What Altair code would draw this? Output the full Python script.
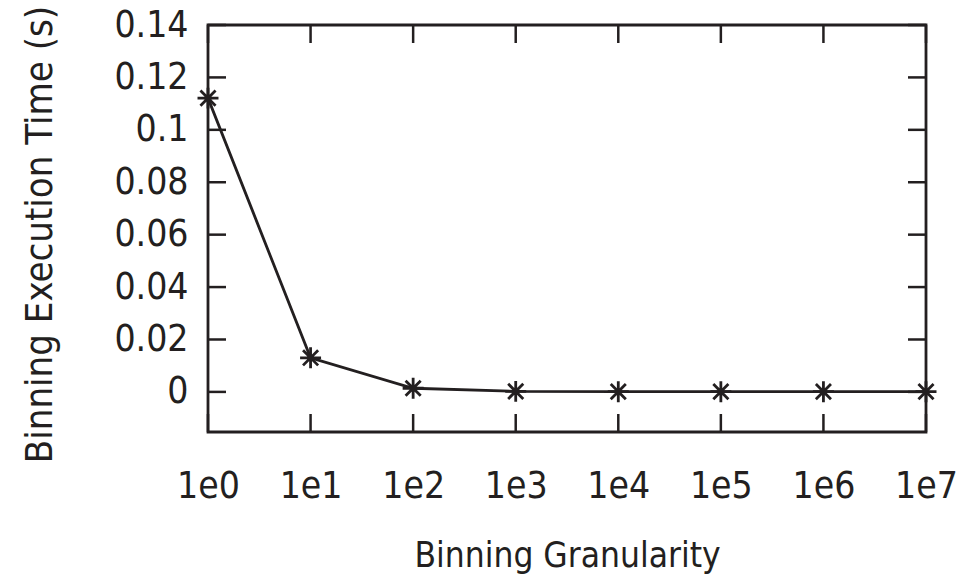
import altair as alt
import pandas as pd

# ---- data ----
exponents = [0, 1, 2, 3, 4, 5, 6, 7]          # granularity = 1e<exp>
exec_time = [0.1121, 0.0130, 0.0014, 0.0002, 0.0001, 0.0001, 0.0001, 0.0001]
x_tick_values = [0, 1, 2, 3, 4, 5, 6, 7]
y_tick_values = [0, 0.02, 0.04, 0.06, 0.08, 0.10, 0.12, 0.14]

INK = "#231f20"
FONT = "DejaVu Sans Condensed"
W, H = 718, 407
TICK = 18
STAR = "M-1,0L1,0M0,-1L0,1M-0.72,-0.72L0.72,0.72M-0.72,0.72L0.72,-0.72"

df = pd.DataFrame({"exp": exponents, "time": exec_time})
xt = pd.DataFrame({"exp": x_tick_values})
yt = pd.DataFrame({"time": y_tick_values})

xs = alt.Scale(domain=[0, 7], nice=False, zero=False)
ys = alt.Scale(domain=[-0.0153, 0.14], nice=False, zero=False)

x_axis = alt.Axis(
    values=x_tick_values,
    labelExpr="'1e' + datum.value",
    title="Binning Granularity",
    labelPadding=65,
    labelBaseline="alphabetic",
    labelFlush=False,
    labelOverlap=False,
    titleY=134,
    titleBaseline="alphabetic",
    titleFontSize=35,
)
y_axis = alt.Axis(
    values=y_tick_values,
    format="~g",
    title="Binning Execution Time (s)",
    labelPadding=20,
    labelFlush=False,
    labelOverlap=False,
    titleX=-157,
    titleY=209,
    titleBaseline="alphabetic",
    titleFontSize=38,
)

X = alt.X("exp:Q", scale=xs, axis=x_axis)
Y = alt.Y("time:Q", scale=ys, axis=y_axis)

line = alt.Chart(df).mark_line(color=INK, strokeWidth=2.8).encode(x=X, y=Y)
pts = alt.Chart(df).mark_point(
    shape=STAR, size=440, filled=False, strokeWidth=2.8, color=INK, opacity=1
).encode(x=X, y=Y)

xb = alt.Chart(xt).mark_rule(color=INK, strokeWidth=2.5).encode(
    x=X, y=alt.value(H), y2=alt.value(H - TICK))
xtop = alt.Chart(xt).mark_rule(color=INK, strokeWidth=2.5).encode(
    x=X, y=alt.value(0), y2=alt.value(TICK))
yl = alt.Chart(yt).mark_rule(color=INK, strokeWidth=2.5).encode(
    y=Y, x=alt.value(0), x2=alt.value(TICK))
yr = alt.Chart(yt).mark_rule(color=INK, strokeWidth=2.5).encode(
    y=Y, x=alt.value(W - TICK), x2=alt.value(W))

chart = (
    alt.layer(xb, xtop, yl, yr, line, pts)
    .properties(
        width=W,
        height=H,
        padding={"left": 200, "top": 17, "right": 31, "bottom": 149},
        autosize=alt.AutoSizeParams(type="none"),
        background="white",
    )
    .configure_view(stroke=INK, strokeWidth=2.8)
    .configure_axis(
        domain=False,
        ticks=False,
        tickSize=0,
        grid=False,
        labelFont=FONT,
        labelFontSize=37,
        labelColor=INK,
        titleFont=FONT,
        titleFontWeight="normal",
        titleColor=INK,
    )
)

chart.save("out.html", embed_options={"renderer": "svg", "actions": False})
